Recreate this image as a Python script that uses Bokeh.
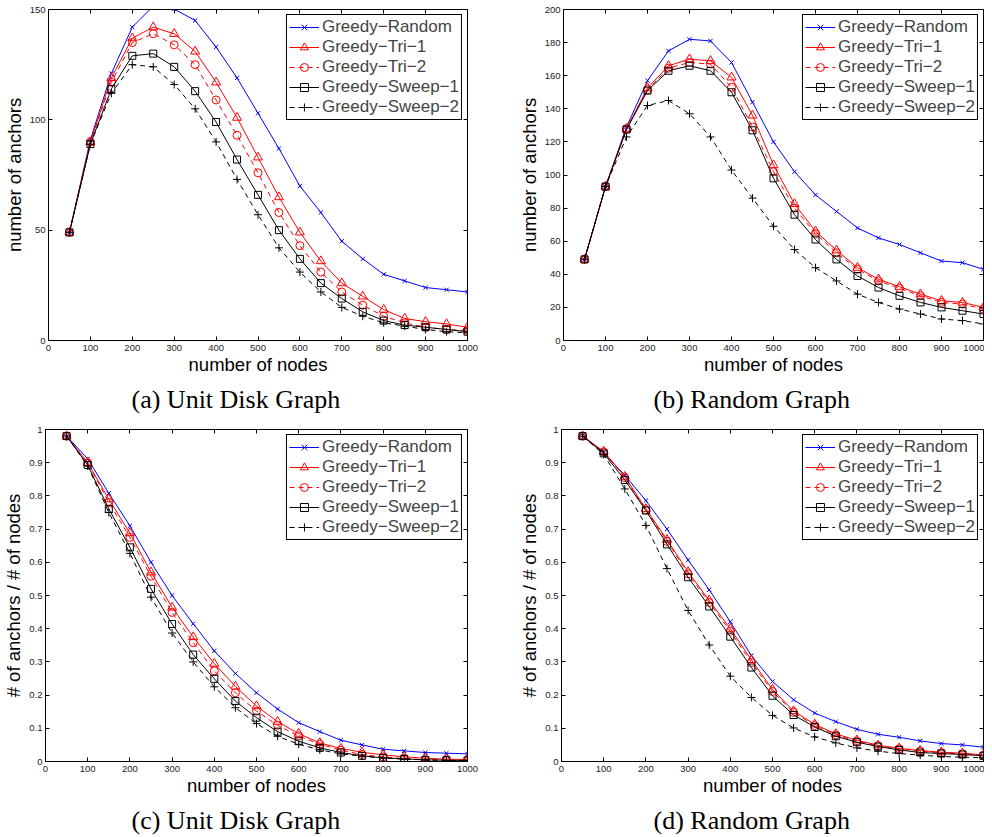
from bokeh.plotting import figure
from bokeh.layouts import column, row
from bokeh.models import Range1d, LinearAxis, FixedTicker, NumeralTickFormatter
from bokeh.embed import file_html
from bokeh.resources import INLINE

# ---------------- data ----------------
nodes = [50, 100, 150, 200, 250, 300, 350, 400, 450, 500,
         550, 600, 650, 700, 750, 800, 850, 900, 950, 1000]

series_names = ["Greedy\u2212Random", "Greedy\u2212Tri\u22121", "Greedy\u2212Tri\u22122",
                "Greedy\u2212Sweep\u22121", "Greedy\u2212Sweep\u22122"]

# (a) Unit Disk Graph: number of anchors
a_random = [49, 91, 121, 142, 151.5, 150.2, 145, 133, 119, 103, 87, 70, 58, 45, 37, 30, 27, 24, 23, 22]
a_tri1 = [49, 90, 119, 137, 142, 139, 131, 117, 101, 83, 65, 49, 36, 26, 20, 14, 10, 8.5, 7.5, 6]
a_tri2 = [49, 90, 117, 135, 139, 134, 125, 109, 93, 76, 58, 43, 31, 22, 16, 11, 8, 6, 5, 4.5]
a_sweep1 = [49, 89, 114, 129, 130, 124, 113, 99, 82, 66, 50, 37, 26, 19, 13, 9, 7, 6, 5, 4]
a_sweep2 = [49, 89, 112, 125, 124, 116, 105, 90, 73, 57, 42, 31, 22, 15, 11, 8, 6.5, 5, 4, 3.5]

# (b) Random Graph: number of anchors
b_random = [49, 93, 129, 157, 175, 182, 181, 168, 144, 120, 102, 88, 78, 68, 62, 58, 53, 48, 47, 43]
b_tri1 = [49, 93, 128, 152.5, 166, 170, 169, 159, 136, 106, 82.5, 66, 54.5, 44, 37, 32.5, 28, 24, 23, 20]
b_tri2 = [49, 93, 128, 151.5, 164.5, 168, 167, 153, 129, 102, 80, 64.5, 53, 43, 36, 31.5, 27, 23, 22, 19]
b_sweep1 = [49, 93, 127.5, 151, 163, 166, 163, 150, 127, 98, 76, 61, 49, 39, 32, 27, 23, 20, 18, 16]
b_sweep2 = [49, 93, 123, 142, 145, 137, 123, 103, 86, 69, 55, 44, 36, 28, 23, 19, 16, 13, 12, 10]

# (c) Unit Disk Graph: anchors / nodes
c_random = [0.98, 0.912, 0.808, 0.71, 0.60, 0.50, 0.415, 0.333, 0.265, 0.207,
            0.158, 0.117, 0.09, 0.064, 0.05, 0.037, 0.032, 0.027, 0.025, 0.023]
c_tri1 = [0.98, 0.90, 0.79, 0.688, 0.57, 0.464, 0.375, 0.295, 0.226, 0.167,
          0.12, 0.084, 0.056, 0.039, 0.028, 0.02, 0.014, 0.01, 0.007, 0.006]
c_tri2 = [0.98, 0.90, 0.78, 0.675, 0.558, 0.449, 0.358, 0.273, 0.207, 0.152,
          0.109, 0.077, 0.052, 0.034, 0.021, 0.014, 0.009, 0.005, 0.004, 0.003]
c_sweep1 = [0.98, 0.893, 0.761, 0.645, 0.52, 0.414, 0.322, 0.249, 0.182, 0.132,
            0.09, 0.061, 0.041, 0.027, 0.017, 0.011, 0.008, 0.005, 0.004, 0.003]
c_sweep2 = [0.98, 0.89, 0.75, 0.627, 0.495, 0.387, 0.30, 0.225, 0.162, 0.114,
            0.076, 0.052, 0.035, 0.023, 0.016, 0.01, 0.007, 0.005, 0.003, 0.002]

# (d) Random Graph: anchors / nodes
d_random = [0.982, 0.93, 0.862, 0.786, 0.70, 0.607, 0.517, 0.421, 0.319, 0.241,
            0.186, 0.146, 0.12, 0.097, 0.082, 0.073, 0.062, 0.054, 0.05, 0.043]
d_tri1 = [0.98, 0.934, 0.858, 0.761, 0.668, 0.571, 0.485, 0.40, 0.306, 0.217,
          0.152, 0.112, 0.083, 0.064, 0.049, 0.04, 0.033, 0.028, 0.025, 0.02]
d_tri2 = [0.98, 0.932, 0.855, 0.758, 0.663, 0.565, 0.479, 0.392, 0.298, 0.211,
          0.148, 0.108, 0.08, 0.061, 0.047, 0.038, 0.031, 0.026, 0.023, 0.019]
d_sweep1 = [0.98, 0.928, 0.848, 0.756, 0.654, 0.555, 0.467, 0.376, 0.283, 0.198,
            0.14, 0.104, 0.076, 0.058, 0.045, 0.035, 0.027, 0.024, 0.021, 0.017]
d_sweep2 = [0.98, 0.925, 0.821, 0.711, 0.581, 0.455, 0.351, 0.257, 0.193, 0.139,
            0.101, 0.074, 0.056, 0.041, 0.031, 0.024, 0.019, 0.015, 0.013, 0.011]

x_ticks = [0, 100, 200, 300, 400, 500, 600, 700, 800, 900, 1000]
a_ticks = [0, 50, 100, 150]
b_ticks = [0, 20, 40, 60, 80, 100, 120, 140, 160, 180, 200]
r_ticks = [0, 0.1, 0.2, 0.3, 0.4, 0.5, 0.6, 0.7, 0.8, 0.9, 1]

# ---------------- styles ----------------
styles = [
    dict(color="#0000ff", dash="solid", marker="x", size=6),
    dict(color="#ff0000", dash="solid", marker="triangle", size=9),
    dict(color="#ff0000", dash="5 4", marker="circle", size=8),
    dict(color="#000000", dash="solid", marker="square", size=7),
    dict(color="#000000", dash="5 4", marker="cross", size=8),
]

SANS = "Liberation Sans"
SERIF = "Liberation Serif"


def tick_only_axis(ticks):
    # frame ticks on the opposite sides (MATLAB box style), no labels drawn
    return LinearAxis(ticker=FixedTicker(ticks=ticks), major_tick_in=4, major_tick_out=0,
                      minor_tick_line_color=None, major_label_text_font_size="1px",
                      major_label_text_color=None, major_label_standoff=0,
                      axis_line_color=None)


def panel(data, y_end, y_ticks, ylabel, caption, cap_off, fw, fh, bl, bt, br, bb, fmt=None):
    p = figure(frame_width=fw, frame_height=fh,
               x_range=Range1d(0, 1000), y_range=Range1d(0, y_end),
               output_backend="svg", toolbar_location=None,
               title=caption, title_location="below",
               min_border_left=bl, min_border_top=bt,
               min_border_right=br, min_border_bottom=bb)
    p.title.text_font = SERIF
    p.title.text_font_size = "26px"
    p.title.text_font_style = "normal"
    p.title.align = "left"
    p.title.offset = cap_off
    p.title.text_color = "#000000"
    p.xgrid.visible = False
    p.ygrid.visible = False
    p.outline_line_color = "#000000"
    p.outline_line_width = 1

    for name, ys, st in zip(series_names, data, styles):
        p.line(nodes, ys, line_color=st["color"], line_width=1,
               line_dash=st["dash"], legend_label=name)
        p.scatter(nodes, ys, marker=st["marker"], size=st["size"],
                  line_color=st["color"], fill_color=None, line_width=1,
                  legend_label=name)

    p.xaxis.ticker = FixedTicker(ticks=x_ticks)
    p.yaxis.ticker = FixedTicker(ticks=y_ticks)
    if fmt is not None:
        p.yaxis.formatter = fmt
    p.xaxis.axis_label = "number of nodes"
    p.yaxis.axis_label = ylabel
    for ax in (p.xaxis, p.yaxis):
        ax.major_tick_in = 4
        ax.major_tick_out = 0
        ax.minor_tick_line_color = None
        ax.axis_line_color = "#000000"
        ax.major_tick_line_color = "#000000"
        ax.major_label_text_font = SANS
        ax.major_label_text_font_size = "9.5px"
        ax.major_label_text_color = "#222222"
        ax.axis_label_text_font = SANS
        ax.axis_label_text_font_size = "18.5px"
        ax.axis_label_text_font_style = "normal"
        ax.axis_label_text_color = "#000000"
    p.xaxis.major_label_standoff = 4
    p.xaxis.axis_label_standoff = 0
    p.yaxis.major_label_standoff = 3
    p.yaxis.axis_label_standoff = 2

    p.add_layout(tick_only_axis(y_ticks), "right")
    p.add_layout(tick_only_axis(x_ticks), "above")

    lg = p.legend[0]
    lg.location = "top_right"
    lg.margin = 5
    lg.padding = 2
    lg.spacing = 0
    lg.border_line_color = "#000000"
    lg.border_line_width = 1
    lg.border_line_alpha = 1
    lg.background_fill_color = "#ffffff"
    lg.background_fill_alpha = 1
    lg.label_text_font = SANS
    lg.label_text_font_size = "17px"
    lg.label_standoff = 3
    lg.glyph_width = 30
    lg.glyph_height = 20
    lg.label_height = 20
    return p


fmt_ratio = NumeralTickFormatter(format="0.[0]")

pa = panel([a_random, a_tri1, a_tri2, a_sweep1, a_sweep2], 150, a_ticks,
           "number of anchors", "(a) Unit Disk Graph", 83, 419, 331, 48, 9, 21, 80)
pb = panel([b_random, b_tri1, b_tri2, b_sweep1, b_sweep2], 200, b_ticks,
           "number of anchors", "(b) Random Graph", 90, 420, 331, 75, 9, 1, 80)
pc = panel([c_random, c_tri1, c_tri2, c_sweep1, c_sweep2], 1, r_ticks,
           "# of anchors / # of nodes", "(c) Unit Disk Graph", 86, 422, 332, 45, 9, 21, 68, fmt_ratio)
pd = panel([d_random, d_tri1, d_tri2, d_sweep1, d_sweep2], 1, r_ticks,
           "# of anchors / # of nodes", "(d) Random Graph", 92, 422, 332, 73, 9, 1, 68, fmt_ratio)

layout = column(row(pa, pb), row(pc, pd))
open("out.html", "w").write(file_html(layout, INLINE))
